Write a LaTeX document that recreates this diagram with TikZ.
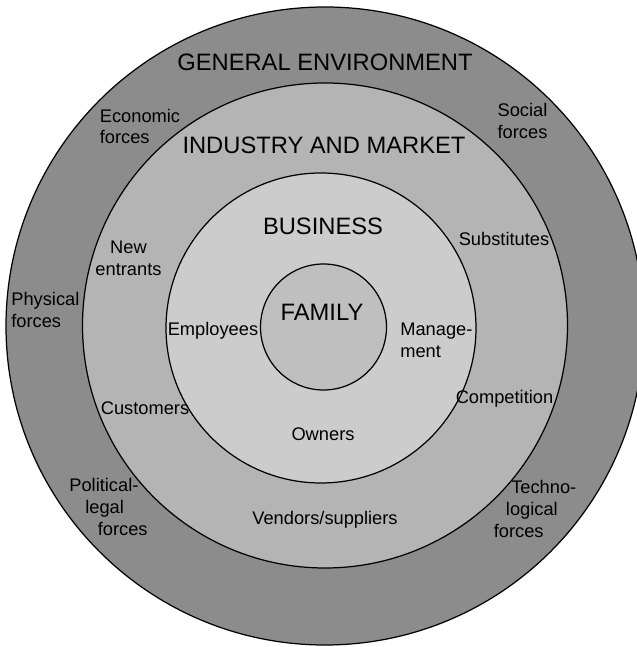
\documentclass[tikz,border=0pt]{standalone}
\usepackage{fontspec}
\setmainfont{Liberation Sans}
\usepackage{tikz}
\usepackage{xcolor}

\tikzset{
  ring/.style={draw=black, line width=0.7pt},
  lbl/.style={inner sep=0pt, align=center, font=\fontsize{10.4}{12.4}\selectfont},
  title/.style={inner sep=0pt, font=\fontsize{13.5}{16}\selectfont}
}

\begin{document}
\begin{tikzpicture}
% Define shades
\definecolor{envgray}{RGB}{140,140,140}
\definecolor{indgray}{RGB}{180,180,180}
\definecolor{busgray}{RGB}{204,204,204}
\definecolor{famgray}{RGB}{191,191,191}

\useasboundingbox (0,0) rectangle (12.74,12.94);

% Draw nested circles
\draw[ring, fill=envgray] (6.50,6.42) circle (6.38);
\draw[ring, fill=indgray] (6.50,6.43) circle (4.85);
\draw[ring, fill=busgray] (6.42,6.38) circle (3.10);
\draw[ring, fill=famgray] (6.47,6.40) circle (1.26);

% Ring titles
\node[title] (genenv) at (6.50,11.70) {GENERAL ENVIRONMENT};
\node[title] (indmkt) at (6.48,10.04) {INDUSTRY AND MARKET};
\node[title] (business) at (6.46,8.42) {BUSINESS};
\node[title] (family) at (6.44,6.70) {FAMILY};

% General environment forces
\node[lbl, anchor=west, align=left] (economic) at (1.99,10.41) {Economic\\forces};
\node[lbl] (social) at (10.45,10.52) {Social\\forces};
\node[lbl, anchor=west, align=left] (physical) at (0.22,6.74) {Physical\\forces};
\node[lbl, anchor=west, align=left] (political) at (1.38,2.80) {Political-\\\hspace*{9.1pt}legal\\\hspace*{16.2pt}forces};
\node[lbl, anchor=west, align=left] (techno) at (9.87,2.76) {\hspace*{9.9pt}Techno-\\\hspace*{6.9pt}logical\\forces};

% Industry and market actors
\node[lbl] (entrants) at (2.57,7.78) {New\\entrants};
\node[lbl] (substitutes) at (10.08,8.16) {Substitutes};
\node[lbl] (customers) at (2.90,4.78) {Customers};
\node[lbl] (competition) at (10.09,4.96) {Competition};
\node[lbl] (vendors) at (6.50,2.54) {Vendors/suppliers};

% Business roles
\node[lbl] (employees) at (4.26,6.32) {Employees};
\node[lbl, anchor=west, align=left] (management) at (8.00,6.14) {Manage-\\ment};
\node[lbl] (owners) at (6.46,4.25) {Owners};
\end{tikzpicture}
\end{document}
